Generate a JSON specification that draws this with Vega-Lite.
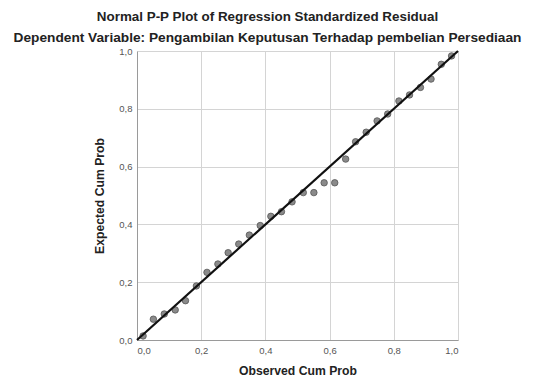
{
  "$schema": "https://vega.github.io/schema/vega-lite/v6.json",
  "width": 321,
  "height": 289,
  "autosize": {"type": "none"},
  "padding": {"left": 137, "top": 51, "right": 75, "bottom": 37},
  "background": "white",
  "title": {
    "text": "Normal P-P Plot of Regression Standardized Residual",
    "subtitle": "Dependent Variable: Pengambilan Keputusan Terhadap pembelian Persediaan",
    "anchor": "middle",
    "dx": -30,
    "offset": 1,
    "font": "Liberation Sans",
    "fontSize": 13.4,
    "fontWeight": "bold",
    "color": "#222222",
    "subtitleFont": "Liberation Sans",
    "subtitleFontSize": 13.7,
    "subtitleFontWeight": "bold",
    "subtitleColor": "#222222",
    "subtitlePadding": 8
  },
  "config": {
    "view": {"stroke": null},
    "axis": {
      "labelFont": "Liberation Sans",
      "labelFontSize": 9.5,
      "labelColor": "#555555",
      "titleFont": "Liberation Sans",
      "titleFontSize": 12.2,
      "titleFontWeight": "bold",
      "titleColor": "#222222",
      "gridColor": "#d4d4d4",
      "gridWidth": 1,
      "domainColor": "#9a9a9a",
      "tickSize": 0,
      "labelPadding": 5
    }
  },
  "datasets": {
    "pts": [
      {"obs": 0.019, "exp": 0.014},
      {"obs": 0.051, "exp": 0.072},
      {"obs": 0.085, "exp": 0.090},
      {"obs": 0.119, "exp": 0.104},
      {"obs": 0.151, "exp": 0.136},
      {"obs": 0.185, "exp": 0.187},
      {"obs": 0.218, "exp": 0.234},
      {"obs": 0.252, "exp": 0.263},
      {"obs": 0.284, "exp": 0.302},
      {"obs": 0.317, "exp": 0.332},
      {"obs": 0.350, "exp": 0.363},
      {"obs": 0.384, "exp": 0.396},
      {"obs": 0.417, "exp": 0.428},
      {"obs": 0.450, "exp": 0.444},
      {"obs": 0.483, "exp": 0.478},
      {"obs": 0.518, "exp": 0.510},
      {"obs": 0.551, "exp": 0.510},
      {"obs": 0.583, "exp": 0.544},
      {"obs": 0.616, "exp": 0.544},
      {"obs": 0.650, "exp": 0.626},
      {"obs": 0.681, "exp": 0.686},
      {"obs": 0.714, "exp": 0.719},
      {"obs": 0.748, "exp": 0.758},
      {"obs": 0.781, "exp": 0.782},
      {"obs": 0.816, "exp": 0.827},
      {"obs": 0.849, "exp": 0.848},
      {"obs": 0.883, "exp": 0.874},
      {"obs": 0.916, "exp": 0.903},
      {"obs": 0.948, "exp": 0.954},
      {"obs": 0.980, "exp": 0.983}
    ],
    "ref": [
      {"obs": 0, "exp": 0},
      {"obs": 1, "exp": 1}
    ]
  },
  "layer": [
    {
      "data": {"name": "pts"},
      "mark": {"type": "point", "filled": true, "size": 42, "fill": "#8a8a8a", "stroke": "#555555", "strokeWidth": 0.8, "opacity": 1},
      "encoding": {
        "x": {
          "field": "obs", "type": "quantitative",
          "scale": {"domain": [0, 1], "nice": false, "zero": false},
          "axis": {"title": "Observed Cum Prob", "values": [0, 0.2, 0.4, 0.6, 0.8, 1.0], "labelExpr": "replace(format(datum.value, '.1f'), '.', ',')", "titlePadding": 10}
        },
        "y": {
          "field": "exp", "type": "quantitative",
          "scale": {"domain": [0, 1], "nice": false, "zero": false},
          "axis": {"title": "Expected Cum Prob", "values": [0, 0.2, 0.4, 0.6, 0.8, 1.0], "labelExpr": "replace(format(datum.value, '.1f'), '.', ',')", "titlePadding": 12}
        }
      }
    },
    {
      "data": {"name": "ref"},
      "mark": {"type": "line", "color": "#111111", "strokeWidth": 2.2},
      "encoding": {
        "x": {"field": "obs", "type": "quantitative"},
        "y": {"field": "exp", "type": "quantitative"}
      }
    }
  ]
}
